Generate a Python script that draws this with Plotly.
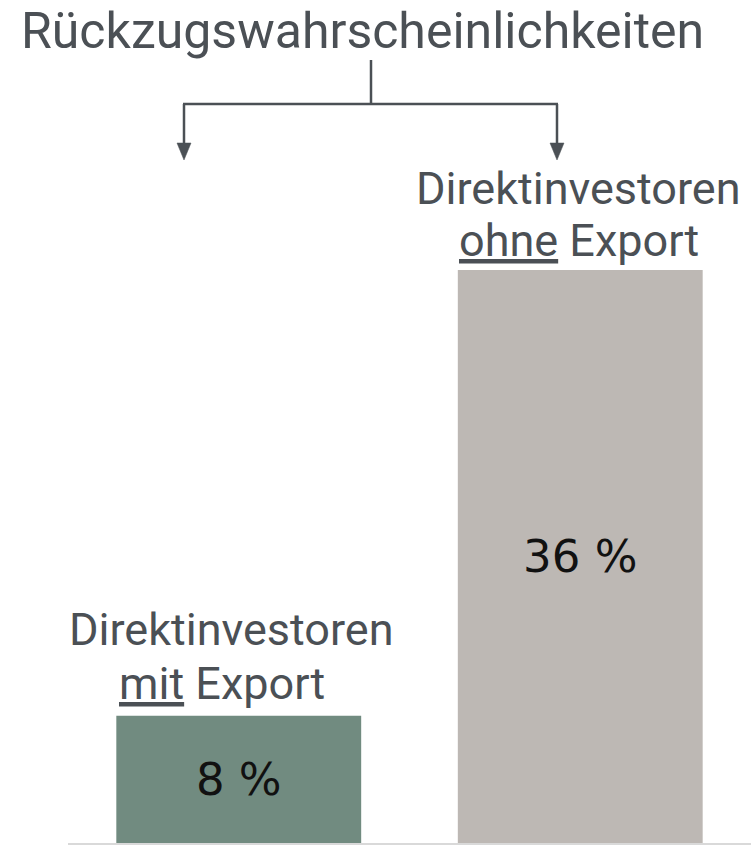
import plotly.graph_objects as go

# ---- data ----
categories = ["Direktinvestoren mit Export", "Direktinvestoren ohne Export"]
values = [8, 36]
value_labels = ["8 %", "36 %"]
label_line1 = ["Direktinvestoren", "Direktinvestoren"]
label_line2 = ["<u>mit</u> Export", "<u>ohne</u> Export"]
title_text = "Rückzugswahrscheinlichkeiten"

bar_colors = ["#718b80", "#bdb8b4"]
text_color = "#4b5055"

W, H = 751, 846
ML, MR, MT, MB = 68, 0, 0, 3
PW, PH = W - ML - MR, H - MT - MB


def px(xp):
    return (xp - ML) / PW


def py(yp):
    return (H - MB - yp) / PH


fig = go.Figure()
fig.add_trace(go.Bar(
    x=list(range(len(categories))),
    y=values,
    width=0.717,
    marker=dict(color=bar_colors, line=dict(width=0)),
    text=value_labels,
    textposition="inside",
    insidetextanchor="middle",
    textangle=0,
    textfont=dict(family="DejaVu Sans", size=45, color="#111111"),
    hoverinfo="skip",
))

annotations = []
# category labels above bars
xshifts1 = [-7, -2]
xshifts2 = [-17, -1]
ys1 = [58, 53]
ys2 = [4, 1]
for i in range(len(categories)):
    annotations.append(dict(
        x=i, y=values[i], xref="x", yref="y", text=label_line1[i],
        showarrow=False, yanchor="bottom", xanchor="center",
        xshift=xshifts1[i], yshift=ys1[i],
        font=dict(family="Roboto", size=45, color=text_color)))
    annotations.append(dict(
        x=i, y=values[i], xref="x", yref="y", text=label_line2[i],
        showarrow=False, yanchor="bottom", xanchor="center",
        xshift=xshifts2[i], yshift=ys2[i],
        font=dict(family="Roboto", size=45, color=text_color)))

# title
annotations.append(dict(
    x=px(362), y=py(62), xref="paper", yref="paper", text=title_text,
    showarrow=False, xanchor="center", yanchor="bottom",
    font=dict(family="Roboto", size=50, color=text_color)))

shapes = []
lw = 2.5
# bracket
shapes.append(dict(type="line", xref="paper", yref="paper",
                   x0=px(371), x1=px(371), y0=py(60), y1=py(104),
                   line=dict(color=text_color, width=lw)))
shapes.append(dict(type="line", xref="paper", yref="paper",
                   x0=px(183), x1=px(558), y0=py(104), y1=py(104),
                   line=dict(color=text_color, width=lw)))
for ax in (184, 557):
    shapes.append(dict(type="line", xref="paper", yref="paper",
                       x0=px(ax), x1=px(ax), y0=py(104), y1=py(146),
                       line=dict(color=text_color, width=lw)))
    path = "M {} {} L {} {} L {} {} Z".format(
        px(ax - 7), py(143), px(ax + 7), py(143), px(ax), py(160))
    shapes.append(dict(type="path", xref="paper", yref="paper", path=path,
                       fillcolor=text_color, line=dict(color=text_color, width=0.5)))

fig.update_layout(
    width=W, height=H,
    margin=dict(l=ML, r=MR, t=MT, b=MB, pad=0),
    paper_bgcolor="white", plot_bgcolor="white",
    showlegend=False,
    xaxis=dict(range=[-0.5, 1.5], showgrid=False, zeroline=False,
               showticklabels=False, ticks="", showline=True,
               linecolor="#d9d9d9", linewidth=2, fixedrange=True),
    yaxis=dict(range=[0, PH / 15.92], showgrid=False, zeroline=False,
               showticklabels=False, ticks="", showline=False, fixedrange=True),
    annotations=annotations,
    shapes=shapes,
    uniformtext=dict(minsize=10, mode="show"),
)

fig.write_html("out.html", config={"displayModeBar": False},
               post_script="document.body.style.margin='0';")
